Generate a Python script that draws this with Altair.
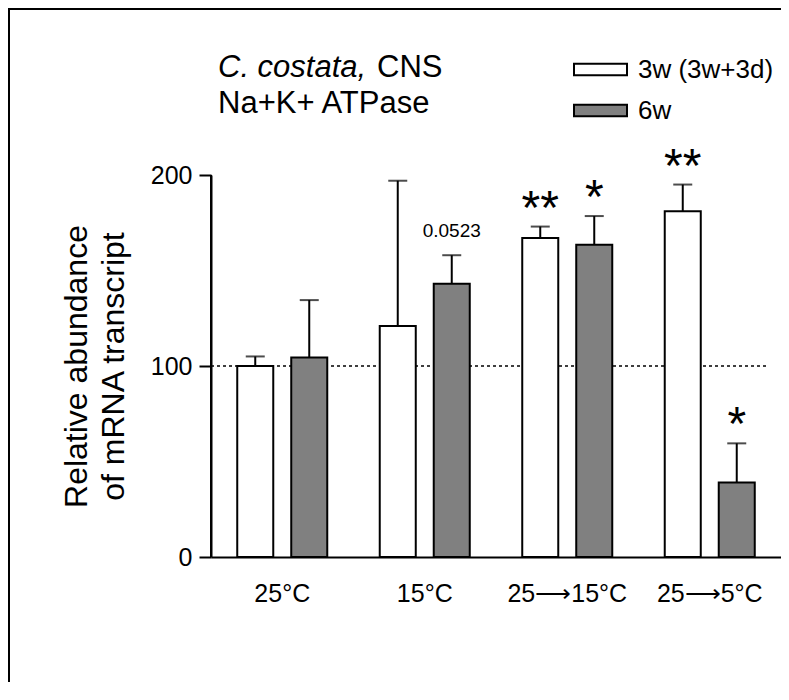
import altair as alt
import pandas as pd

groups = ["25°C", "15°C", "25⟶15°C", "25⟶5°C"]
series = ["3w (3w+3d)", "6w"]
mean_3w = [100, 121, 167, 181]
err_3w = [5, 76, 6, 14]
mean_6w = [104.5, 143, 163.5, 39]
err_6w = [30, 15, 15, 20.5]
ann_3w = ["", "", "**", "**"]
ann_6w = ["", "0.0523", "*", "*"]
y_ticks = [0, 100, 200]

rows = []
for i, g in enumerate(groups):
    rows.append({"group": g, "series": series[0], "mean": mean_3w[i],
                 "upper": mean_3w[i] + err_3w[i], "ann": ann_3w[i]})
    rows.append({"group": g, "series": series[1], "mean": mean_6w[i],
                 "upper": mean_6w[i] + err_6w[i], "ann": ann_6w[i]})
df = pd.DataFrame(rows)

FONT = "Liberation Sans"
YTITLE = ["Relative abundance", "of mRNA transcript"]
YSCALE = alt.Scale(domain=[y_ticks[0], y_ticks[-1]], nice=False)

base = alt.Chart(df).encode(
    x=alt.X("group:N", sort=groups, title=None,
            scale=alt.Scale(paddingInner=0, paddingOuter=0)),
    xOffset=alt.XOffset("series:N", sort=series,
                        scale=alt.Scale(paddingInner=0.333, paddingOuter=0.486)),
)

bars = base.mark_bar(stroke="black", strokeWidth=2).encode(
    y=alt.Y("mean:Q", scale=YSCALE, title=YTITLE, axis=alt.Axis(values=y_ticks)),
    fill=alt.Fill("series:N", sort=series,
                  scale=alt.Scale(domain=series, range=["white", "#808080"]),
                  legend=alt.Legend(title=None, orient="none", legendX=362, legendY=-133,
                                    symbolType="M-1,-0.22L1,-0.22L1,0.22L-1,0.22Z",
                                    symbolSize=2809, symbolStrokeColor="black",
                                    symbolStrokeWidth=2, labelFontSize=26,
                                    labelColor="black", labelOffset=10, rowPadding=-5.5,
                                    padding=0, labelFont=FONT)),
)

err = base.mark_rule(stroke="black", strokeWidth=2).encode(
    y=alt.Y("mean:Q", title=YTITLE), y2="upper:Q")

caps = base.mark_tick(color="black", size=19, thickness=2, orient="horizontal").encode(
    y=alt.Y("upper:Q", title=YTITLE))

stars = base.transform_filter("indexof(datum.ann, '*') >= 0").mark_text(
    fontSize=48, font=FONT, color="black", baseline="alphabetic", dy=-3).encode(
    y=alt.Y("upper:Q", title=YTITLE), text="ann:N")

pval = base.transform_filter("datum.ann != '' && indexof(datum.ann, '*') < 0").mark_text(
    fontSize=19, font=FONT, color="black", baseline="alphabetic", dy=-18).encode(
    y=alt.Y("upper:Q", title=YTITLE), text="ann:N")

refline = alt.Chart(alt.Data(values=[{"v": 100}])).mark_rule(
    color="black", strokeWidth=1.5, strokeDash=[3, 3]).encode(
    y=alt.Y("v:Q", title=YTITLE), x=alt.value(0), x2=alt.value(556))

# y axis line (axis extent 0..200)
yline = alt.Chart(alt.Data(values=[{"lo": y_ticks[0], "hi": y_ticks[-1]}])).mark_rule(
    color="black", strokeWidth=2).encode(
    y=alt.Y("lo:Q", title=YTITLE), y2="hi:Q", x=alt.value(0))

one = alt.Data(values=[{"a": 1}])
t1 = alt.Chart(one).mark_text(text="C. costata,", fontSize=31, font=FONT, fontStyle="italic",
                              align="left", baseline="alphabetic", color="black").encode(
    x=alt.value(7), y=alt.value(-98))
t2 = alt.Chart(one).mark_text(text="CNS", fontSize=31, font=FONT,
                              align="left", baseline="alphabetic", color="black").encode(
    x=alt.value(166), y=alt.value(-98))
t3 = alt.Chart(one).mark_text(text="Na+K+ ATPase", fontSize=31, font=FONT,
                              align="left", baseline="alphabetic", color="black").encode(
    x=alt.value(7), y=alt.value(-62))
frame = alt.Chart(one).mark_rect(fill="transparent", stroke="black", strokeWidth=2).encode(
    x=alt.value(-202), x2=alt.value(800), y=alt.value(-166), y2=alt.value(800))

chart = alt.layer(frame, refline, bars, err, caps, stars, pval, t1, t2, t3, yline).properties(
    width=570, height=382,
    autosize=alt.AutoSizeParams(type="none"),
    padding={"left": 203, "top": 167, "right": 0, "bottom": 125},
).configure(font=FONT).configure_view(stroke="transparent", strokeWidth=0).configure_axis(
    grid=False, domain=True, domainColor="black", domainWidth=2, zindex=1,
    labelColor="black", labelFont=FONT, titleColor="black", titleFont=FONT,
).configure_axisY(
    tickSize=12, tickWidth=2, tickColor="black", ticks=True,
    labelFontSize=25, labelPadding=7,
    titleFontSize=32, titleFontWeight="normal", titleLineHeight=37, titlePadding=20,
).configure_axisX(
    ticks=False, labelPadding=24, labelFontSize=25, labelAngle=0,
)

chart.save("out.html", embed_options={"renderer": "svg", "actions": False})
